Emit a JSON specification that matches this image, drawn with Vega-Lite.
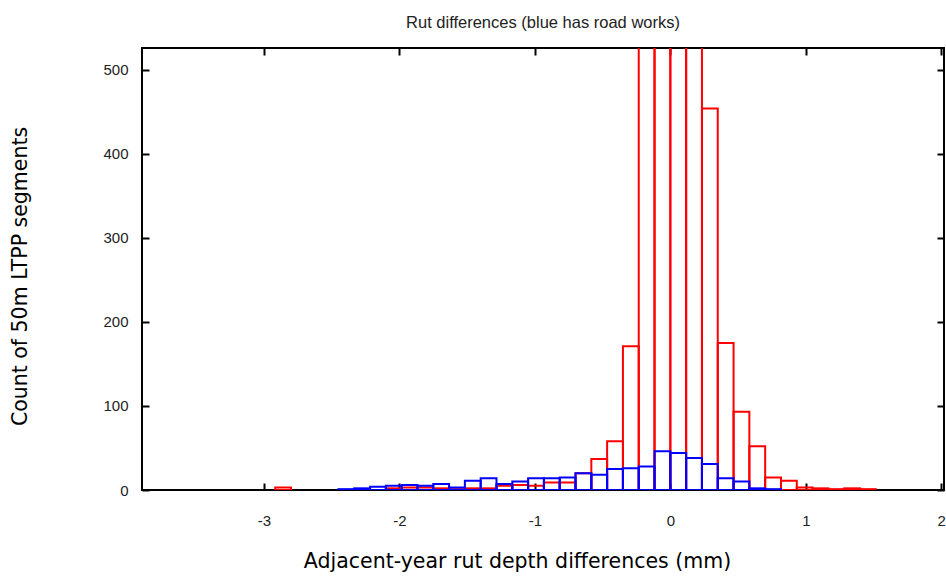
{
  "$schema": "https://vega.github.io/schema/vega-lite/v6.json",
  "width": 802,
  "height": 442,
  "autosize": "none",
  "padding": {"left": 142, "top": 48, "right": 2, "bottom": 87},
  "background": "white",
  "title": {"text": "Rut differences (blue has road works)", "font": "Liberation Sans", "fontSize": 16.5, "fontWeight": "normal", "color": "#222", "offset": 16},
  "config": {"view": {"stroke": "#000", "strokeWidth": 2}},
  "datasets": {
    "red": [
      {"x0": -2.9167, "x1": -2.8, "n": 3},
      {"x0": -2.3333, "x1": -2.2167, "n": 1},
      {"x0": -2.1, "x1": -1.9833, "n": 2},
      {"x0": -1.9833, "x1": -1.8667, "n": 3},
      {"x0": -1.8667, "x1": -1.75, "n": 3},
      {"x0": -1.75, "x1": -1.6333, "n": 2},
      {"x0": -1.6333, "x1": -1.5167, "n": 1},
      {"x0": -1.5167, "x1": -1.4, "n": 2},
      {"x0": -1.4, "x1": -1.2833, "n": 2},
      {"x0": -1.2833, "x1": -1.1667, "n": 5},
      {"x0": -1.1667, "x1": -1.05, "n": 6},
      {"x0": -1.05, "x1": -0.9333, "n": 5},
      {"x0": -0.9333, "x1": -0.8167, "n": 9},
      {"x0": -0.8167, "x1": -0.7, "n": 9},
      {"x0": -0.7, "x1": -0.5833, "n": 20},
      {"x0": -0.5833, "x1": -0.4667, "n": 37},
      {"x0": -0.4667, "x1": -0.35, "n": 58},
      {"x0": -0.35, "x1": -0.2333, "n": 171},
      {"x0": -0.2333, "x1": -0.1167, "n": 800},
      {"x0": -0.1167, "x1": 0, "n": 1200},
      {"x0": 0, "x1": 0.1167, "n": 1100},
      {"x0": 0.1167, "x1": 0.2333, "n": 700},
      {"x0": 0.2333, "x1": 0.35, "n": 454},
      {"x0": 0.35, "x1": 0.4667, "n": 175},
      {"x0": 0.4667, "x1": 0.5833, "n": 93},
      {"x0": 0.5833, "x1": 0.7, "n": 52},
      {"x0": 0.7, "x1": 0.8167, "n": 15},
      {"x0": 0.8167, "x1": 0.9333, "n": 11},
      {"x0": 0.9333, "x1": 1.05, "n": 3},
      {"x0": 1.05, "x1": 1.1667, "n": 2},
      {"x0": 1.1667, "x1": 1.2833, "n": 1},
      {"x0": 1.2833, "x1": 1.4, "n": 2},
      {"x0": 1.4, "x1": 1.5167, "n": 1}
    ],
    "blue": [
      {"x0": -2.45, "x1": -2.3333, "n": 1},
      {"x0": -2.3333, "x1": -2.2167, "n": 2},
      {"x0": -2.2167, "x1": -2.1, "n": 4},
      {"x0": -2.1, "x1": -1.9833, "n": 5},
      {"x0": -1.9833, "x1": -1.8667, "n": 6},
      {"x0": -1.8667, "x1": -1.75, "n": 5},
      {"x0": -1.75, "x1": -1.6333, "n": 7},
      {"x0": -1.6333, "x1": -1.5167, "n": 3},
      {"x0": -1.5167, "x1": -1.4, "n": 11},
      {"x0": -1.4, "x1": -1.2833, "n": 14},
      {"x0": -1.2833, "x1": -1.1667, "n": 7},
      {"x0": -1.1667, "x1": -1.05, "n": 10},
      {"x0": -1.05, "x1": -0.9333, "n": 14},
      {"x0": -0.9333, "x1": -0.8167, "n": 14},
      {"x0": -0.8167, "x1": -0.7, "n": 15},
      {"x0": -0.7, "x1": -0.5833, "n": 20},
      {"x0": -0.5833, "x1": -0.4667, "n": 18},
      {"x0": -0.4667, "x1": -0.35, "n": 25},
      {"x0": -0.35, "x1": -0.2333, "n": 26},
      {"x0": -0.2333, "x1": -0.1167, "n": 28},
      {"x0": -0.1167, "x1": 0, "n": 46},
      {"x0": 0, "x1": 0.1167, "n": 44},
      {"x0": 0.1167, "x1": 0.2333, "n": 38},
      {"x0": 0.2333, "x1": 0.35, "n": 31},
      {"x0": 0.35, "x1": 0.4667, "n": 14},
      {"x0": 0.4667, "x1": 0.5833, "n": 10},
      {"x0": 0.5833, "x1": 0.7, "n": 2},
      {"x0": 0.7, "x1": 0.8167, "n": 1}
    ]
  },
  "resolve": {"axis": {"x": "independent", "y": "independent"}},
  "layer": [
    {
      "data": {"name": "red"},
      "mark": {"type": "bar", "filled": false, "color": "#ff0000", "strokeWidth": 2, "clip": true},
      "encoding": {
        "x": {"field": "x0", "type": "quantitative", "scale": {"domain": [-3.9, 2.02], "nice": false, "zero": false},
          "axis": {"values": [-3, -2, -1, 0, 1, 2], "labelExpr": "'' + datum.value", "orient": "bottom", "domain": false, "grid": false, "tickSize": -7, "tickColor": "#000", "tickWidth": 2, "labelFont": "Liberation Sans", "labelFontSize": 15, "labelColor": "#222", "labelPadding": 30,
            "title": "Adjacent-year rut depth differences (mm)", "titleFont": "DejaVu Sans", "titleFontSize": 20.5, "titleFontWeight": "normal", "titleColor": "#000", "titleX": 375, "titleY": 71, "titleBaseline": "middle"}},
        "x2": {"field": "x1"},
        "y": {"field": "n", "type": "quantitative", "scale": {"domain": [0, 526], "nice": false},
          "axis": {"values": [0, 100, 200, 300, 400, 500], "orient": "left", "domain": false, "grid": false, "tickSize": -7, "tickColor": "#000", "tickWidth": 2, "labelFont": "Liberation Sans", "labelFontSize": 15, "labelColor": "#222", "labelPadding": 21,
            "title": "Count of 50m LTPP segments", "titleFont": "DejaVu Sans", "titleFontSize": 20.5, "titleFontWeight": "normal", "titleColor": "#000", "titleX": -122, "titleY": 228, "titleAngle": -90, "titleBaseline": "middle"}},
        "y2": {"datum": 0}
      }
    },
    {
      "data": {"name": "blue"},
      "mark": {"type": "bar", "filled": false, "color": "#0000ff", "strokeWidth": 2, "clip": true},
      "encoding": {
        "x": {"field": "x0", "type": "quantitative",
          "axis": {"values": [-3, -2, -1, 0, 1, 2], "orient": "top", "domain": false, "grid": false, "labels": false, "tickSize": -7, "tickColor": "#000", "tickWidth": 2, "title": null}},
        "x2": {"field": "x1"},
        "y": {"field": "n", "type": "quantitative",
          "axis": {"values": [0, 100, 200, 300, 400, 500], "orient": "right", "domain": false, "grid": false, "labels": false, "tickSize": -7, "tickColor": "#000", "tickWidth": 2, "title": null}},
        "y2": {"datum": 0}
      }
    }
  ]
}
